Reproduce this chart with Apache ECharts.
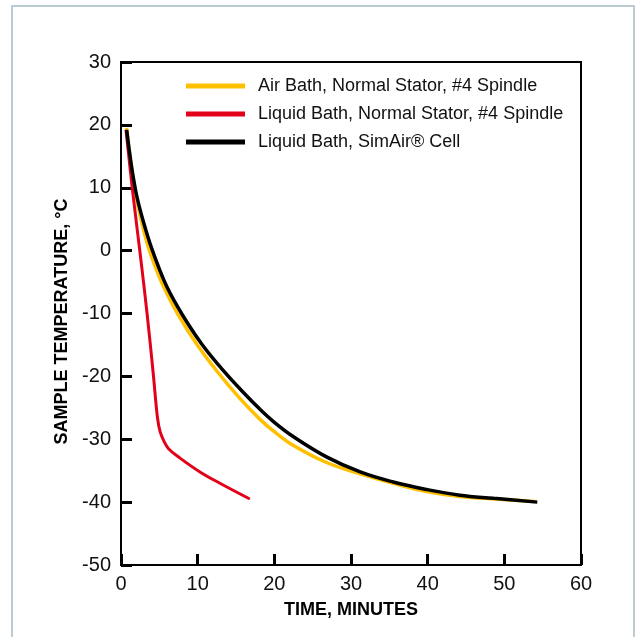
<!DOCTYPE html>
<html>
<head>
<meta charset="utf-8">
<script src="https://cdn.jsdelivr.net/npm/echarts@6/dist/echarts.min.js"></script>
<style>
  html, body { margin: 0; padding: 0; background: #fff; }
  #frame { position: absolute; left: 11px; top: 5px; width: 620px; height: 660px; border: 2px solid #bccbd3; }
  #chart { position: absolute; left: 0; top: 0; width: 636px; height: 637px; }
</style>
</head>
<body>
<div id="frame"></div>
<div id="chart"></div>
<script>
// time (minutes) / sample temperature (°C)
const airBath = [
  [0.72, 19.5], [1.8, 9.8], [3.0, 3.0], [4.0, -1.0], [5.5, -5.6], [7.5, -10.3],
  [10.0, -15.1], [12.6, -19.3], [15.5, -23.5], [18.1, -26.8], [20.0, -28.8],
  [22.5, -31.0], [26.8, -33.7], [31.2, -35.5], [35.5, -37.0], [39.9, -38.3],
  [44.2, -39.1], [48.6, -39.5], [54.0, -39.9]
];
const liquidBath = [
  [0.65, 19.2], [1.5, 9.6], [2.5, -0.5], [3.4, -10.0], [4.2, -19.5],
  [4.75, -26.5], [5.1, -28.8], [5.6, -30.3], [6.2, -31.5], [7.7, -33.0],
  [10.3, -35.2], [12.9, -37.0], [16.8, -39.5]
];
const simAir = [
  [0.74, 19.2], [1.9, 9.6], [3.3, 3.0], [4.4, -1.0], [6.0, -5.8], [8.0, -10.2],
  [10.5, -14.8], [13.3, -19.0], [16.0, -22.6], [18.1, -25.2], [20.0, -27.3],
  [22.5, -29.6], [26.8, -32.8], [31.2, -35.2], [35.5, -36.8], [39.9, -38.0],
  [44.2, -38.9], [48.6, -39.4], [54.3, -40.0]
];
const seriesNames = [
  'Air Bath, Normal Stator, #4 Spindle',
  'Liquid Bath, Normal Stator, #4 Spindle',
  'Liquid Bath, SimAir® Cell'
];
const colors = ['#ffc000', '#e2001a', '#000000'];

const font = '"Liberation Sans", Arial, sans-serif';
const chart = echarts.init(document.getElementById('chart'));

chart.setOption({
  animation: false,
  color: colors,
  textStyle: { fontFamily: font },
  grid: {
    left: 121, right: 55, top: 62, bottom: 72,
    show: true, borderColor: '#000', borderWidth: 2, backgroundColor: 'transparent'
  },
  legend: {
    orient: 'vertical',
    left: 181, top: 72,
    icon: 'rect',
    itemWidth: 59, itemHeight: 5, itemGap: 10,
    textStyle: { fontSize: 18, color: '#111', fontFamily: font, padding: [0, 0, 0, 8] },
    data: seriesNames
  },
  xAxis: {
    type: 'value', min: 0, max: 60, interval: 10,
    name: 'TIME, MINUTES', nameLocation: 'middle', nameGap: 36,
    nameTextStyle: { fontSize: 18, fontWeight: 'bold', color: '#000', fontFamily: font },
    axisLine: { onZero: false, lineStyle: { color: '#000', width: 2 } },
    axisTick: { inside: true, length: 11, lineStyle: { color: '#000', width: 3 } },
    axisLabel: { fontSize: 20, color: '#111', margin: 9, fontFamily: font },
    splitLine: { show: false }
  },
  yAxis: {
    type: 'value', min: -50, max: 30, interval: 10,
    name: 'SAMPLE TEMPERATURE, °C', nameLocation: 'middle', nameGap: 46,
    nameTextStyle: { fontSize: 18, fontWeight: 'bold', color: '#000', fontFamily: font, padding: [0, 16, 0, 0] },
    axisLine: { onZero: false, lineStyle: { color: '#000', width: 2 } },
    axisTick: { inside: true, length: 11, lineStyle: { color: '#000', width: 3 } },
    axisLabel: { fontSize: 20, color: '#111', margin: 10, fontFamily: font },
    splitLine: { show: false }
  },
  series: [
    { name: seriesNames[0], type: 'line', data: airBath, smooth: 0.4, showSymbol: false,
      lineStyle: { width: 3.5, color: colors[0] }, z: 2 },
    { name: seriesNames[1], type: 'line', data: liquidBath, smooth: 0.4, showSymbol: false,
      lineStyle: { width: 3, color: colors[1] }, z: 3 },
    { name: seriesNames[2], type: 'line', data: simAir, smooth: 0.4, showSymbol: false,
      lineStyle: { width: 3.5, color: colors[2] }, z: 4 }
  ]
});
</script>
</body>
</html>
